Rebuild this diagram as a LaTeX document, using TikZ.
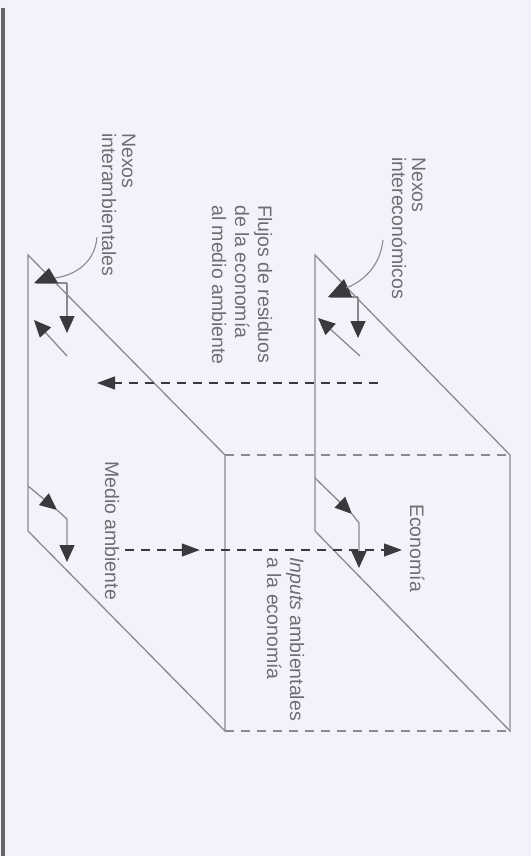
\documentclass[tikz,border=0pt]{standalone}
\usepackage{fontspec}
\setmainfont{Liberation Sans}
\usetikzlibrary{arrows.meta,decorations.markings}
\definecolor{paper}{HTML}{F3F2FB}
\definecolor{edgegray}{HTML}{8A8A8E}
\definecolor{ink}{HTML}{3A3A3E}
\definecolor{txt}{HTML}{6E6E72}
\tikzset{
  plane/.style={draw=edgegray,line width=1.3pt,line join=miter},
  link/.style={draw=edgegray,line width=1.3pt,dash pattern=on 9pt off 7pt},
  flow/.style={draw=ink,line width=1.2pt,dash pattern=on 9pt off 7pt,-{Triangle[length=18pt,width=13pt]}},
  cyc/.style={draw=edgegray,line width=1.3pt,-{Triangle[length=17pt,width=15pt,fill=ink,color=ink]}},
  cycl/.style={draw=edgegray,line width=1.3pt},
  leader/.style={draw=edgegray,line width=1.1pt},
  tipfill/.style={fill=ink,draw=none},
  lbl/.style={font=\fontsize{19.5}{20}\selectfont,text=txt,rotate=-90,anchor=base west,align=left,inner sep=0pt},
  midtip/.style={postaction={decorate},decoration={markings,
     mark=at position #1 with {\arrow{Triangle[length=18pt,width=13pt]}}}}
}
\begin{document}
\begin{tikzpicture}[x=1pt,y=-1pt]
% paper
\fill[paper] (0,0) rectangle (531,856);
\useasboundingbox (0,0) rectangle (531,856);
\draw[color=black!60,line width=4pt] (3,8) -- (3,856);

% economy plane (upper)
\coordinate (e1) at (315,255);
\coordinate (e2) at (510,455);
\coordinate (e3) at (510,731);
\coordinate (e4) at (315,531);
% environment plane (lower)
\coordinate (m1) at (28,255);
\coordinate (m2) at (225,455);
\coordinate (m3) at (225,731);
\coordinate (m4) at (28,531);

\draw[plane] (e1) -- (e2) -- (e3) -- (e4) -- cycle;
\draw[plane] (m1) -- (m2) -- (m3) -- (m4) -- cycle;
\draw[link] (m2) -- (e2);
\draw[link] (m3) -- (e3);

% flows between the planes
\coordinate (f1) at (378,383);
\coordinate (f2) at (97,383);
\draw[flow] (f1) -- (f2);
\coordinate (g1) at (125,550);
\coordinate (g2) at (402,550);
\draw[flow,midtip=0.27] (g1) -- (g2);

% links inside the economy plane
\draw[cycl] (330,297) -- (358,297);
\draw[cyc] (358,297) -- (358,338);
\draw[cyc] (360,356) -- (318,318);
\fill[tipfill] (328,297) -- (352,297) -- (344,279) -- cycle;
\draw[leader] (383,240) .. controls (380,266) and (364,281) .. (346,288);
\draw[cyc] (315,478) -- (352,514);
\draw[cyc] (352,514) -- (359,523) -- (359,568);

% links inside the environment plane
\draw[cycl] (36,283) -- (67,283);
\draw[cyc] (67,283) -- (67,333);
\draw[cyc] (67,356) -- (34,320);
\fill[tipfill] (34,283) -- (58,283) -- (49,268) -- cycle;
\draw[leader] (97,237) .. controls (95,262) and (76,275) .. (55,278);
\draw[cyc] (28,486) -- (57,510);
\draw[cyc] (57,510) -- (67,519) -- (67,562);

% labels (anchored at the baseline of the last line)
\node[lbl] (nie) at (392,157) {Nexos\\intereconómicos};
\node[lbl] (nia) at (102,133) {Nexos\\interambientales};
\node[lbl,font=\fontsize{19.5}{23}\selectfont] (fr) at (212,205) {Flujos de residuos\\de la economía\\al medio ambiente};
\node[lbl] (eco) at (410,504) {Economía};
\node[lbl,font=\fontsize{19.5}{23}\selectfont] (inp) at (267,557) {\textit{Inputs} ambientales\\a la economía};
\node[lbl] (med) at (105,461) {Medio ambiente};
\end{tikzpicture}
\end{document}
